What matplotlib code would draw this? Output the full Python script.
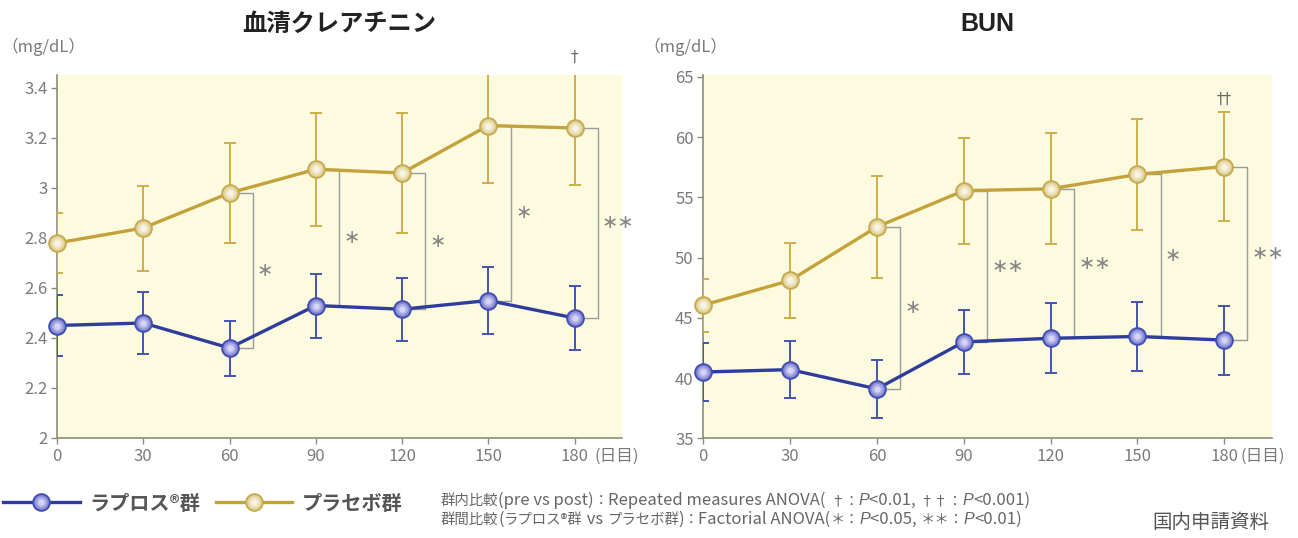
import matplotlib
matplotlib.use("Agg")
import matplotlib.pyplot as plt
from matplotlib.lines import Line2D
from matplotlib.legend_handler import HandlerTuple
from matplotlib.offsetbox import TextArea, HPacker, VPacker, AnchoredOffsetbox
from matplotlib.ticker import FuncFormatter
from matplotlib.font_manager import FontProperties

# ---------------- data ----------------
days = [0, 30, 60, 90, 120, 150, 180]
x_ticks = [0, 30, 60, 90, 120, 150, 180]

cre_lap = [2.45, 2.46, 2.36, 2.53, 2.515, 2.55, 2.48]
cre_lap_sd = [0.12, 0.123, 0.11, 0.128, 0.126, 0.134, 0.128]
cre_pla = [2.78, 2.84, 2.98, 3.075, 3.06, 3.25, 3.24]
cre_pla_sd = [0.12, 0.17, 0.20, 0.227, 0.24, 0.23, 0.23]
cre_yticks = [2, 2.2, 2.4, 2.6, 2.8, 3, 3.2, 3.4]

bun_lap = [40.5, 40.7, 39.1, 43.0, 43.3, 43.45, 43.15]
bun_lap_sd = [2.4, 2.35, 2.38, 2.63, 2.9, 2.87, 2.87]
bun_pla = [46.05, 48.1, 52.55, 55.55, 55.7, 56.9, 57.55]
bun_pla_sd = [2.2, 3.1, 4.25, 4.4, 4.6, 4.6, 4.5]
bun_yticks = [35, 40, 45, 50, 55, 60, 65]

sig_days = [60, 90, 120, 150, 180]
cre_sig = ["∗", "∗", "∗", "∗", "∗∗"]
bun_sig = ["∗", "∗∗", "∗∗", "∗", "∗∗"]
cre_dagger = (180, "†")
bun_dagger = (180, "††")

label_lap = "ラプロス®群"
label_pla = "プラセボ群"
title_cre = "血清クレアチニン"
title_bun = "BUN"
unit = "（mg/dL）"
day_unit = "(日目)"
source = "国内申請資料"

note1 = [("群内比較(pre vs post)：Repeated measures ANOVA( †：", False),
         ("P", True), ("<0.01, ††：", False), ("P", True), ("<0.001)", False)]
note2 = [("群間比較(ラプロス®群 vs プラセボ群)：Factorial ANOVA(＊：", False),
         ("P", True), ("<0.05, ＊＊：", False), ("P", True), ("<0.01)", False)]

# ---------------- style ----------------
FAM = ["Noto Sans CJK JP", "DejaVu Sans"]
plt.rcParams["font.family"] = FAM

BG = "#FCFADF"
SPINE = "#8C8C7A"
TICKC = "#7A7A7A"
GOLD = "#C4A23A"
GOLD_ERR = "#CDAE4A"
GOLD_FACE = "#E2D49C"
GOLD_MID = "#EDE4C2"
GOLD_EDGE = "#C6AA50"
GOLD_HL = "#F8F3E2"
BLUE = "#2E3C9C"
BLUE_ERR = "#4553B0"
BLUE_FACE = "#8A8AD6"
BLUE_MID = "#AEAEE6"
BLUE_EDGE = "#4050B0"
BLUE_HL = "#D4D4F4"
BRACKET = "#9C9C9C"
STARC = "#858585"

MS = 12
MS_MID = 7.8
MS_HL = 4.6

fig = plt.figure(figsize=(12.98, 5.38), dpi=100)
fig.patch.set_facecolor("white")

ax1 = fig.add_axes([57 / 1298, 100 / 538, 565 / 1298, 363 / 538])
ax2 = fig.add_axes([703.3 / 1298, 99.7 / 538, 568.7 / 1298, 363.3 / 538])


def draw_panel(ax, lap, lap_sd, pla, pla_sd, ylim, yticks, sig, dagger,
               unit_x):
    ax.set_facecolor(BG)
    for s in ["top", "right"]:
        ax.spines[s].set_visible(False)
    for s in ["left", "bottom"]:
        ax.spines[s].set_color(SPINE)
        ax.spines[s].set_linewidth(1.2)
    ax.set_xlim(0, 196.5)
    ax.set_ylim(*ylim)
    ax.set_xticks(x_ticks)
    ax.set_yticks(yticks)
    ax.yaxis.set_major_formatter(FuncFormatter(lambda v, p: f"{v:g}"))
    ax.tick_params(axis="both", direction="out", length=4, width=1,
                   color=SPINE, labelcolor=TICKC, labelsize=12, pad=3)

    for vals, sd, lc, ec, fc, mc, edc, hl in [
        (pla, pla_sd, GOLD, GOLD_ERR, GOLD_FACE, GOLD_MID, GOLD_EDGE, GOLD_HL),
        (lap, lap_sd, BLUE, BLUE_ERR, BLUE_FACE, BLUE_MID, BLUE_EDGE, BLUE_HL),
    ]:
        ax.errorbar(days, vals, yerr=sd, fmt="none", ecolor=ec,
                    elinewidth=1.4, capsize=4.3, capthick=1.4, zorder=3)
        ax.plot(days, vals, color=lc, lw=2.4, zorder=4, solid_capstyle="round")
        ax.plot(days, vals, ls="none", marker="o", ms=MS, mfc=fc,
                mec=edc, mew=1.4, zorder=5, clip_on=False)
        ax.plot(days, vals, ls="none", marker="o", ms=MS_MID, mfc=mc,
                mec="none", zorder=6, clip_on=False)
        ax.plot(days, vals, ls="none", marker="o", ms=MS_HL, mfc=hl,
                mec="none", zorder=7, clip_on=False)

    # brackets and significance marks
    for d, s in zip(sig_days, sig):
        i = days.index(d)
        yt, yb = pla[i], lap[i]
        bx = d + 8
        ax.plot([d + 3, bx, bx, d + 3], [yt, yt, yb, yb], color=BRACKET,
                lw=1.0, zorder=3.5, clip_on=False)
        ax.text(bx + 1.5, (yt + yb) / 2, s, ha="left", va="center",
                fontsize=14, color=STARC, family=["DejaVu Sans"],
                clip_on=False)

    d, s = dagger
    i = days.index(d)
    ax.annotate(s, xy=(d, pla[i] + pla_sd[i]), xytext=(0, 4),
                textcoords="offset points", ha="center", va="bottom",
                fontsize=11, color="#666666", family=["DejaVu Sans"],
                annotation_clip=False)

    ax.annotate(day_unit, xy=(unit_x, 0), xycoords=("data", "axes fraction"),
                xytext=(0, -7), textcoords="offset points", ha="left",
                va="top", fontsize=12, color=TICKC, family=FAM,
                annotation_clip=False)


draw_panel(ax1, cre_lap, cre_lap_sd, cre_pla, cre_pla_sd, (2, 3.452),
           cre_yticks, cre_sig, cre_dagger, 187.0)
draw_panel(ax2, bun_lap, bun_lap_sd, bun_pla, bun_pla_sd, (35, 65.15),
           bun_yticks, bun_sig, bun_dagger, 185.5)

# titles
fig.text(339 / 1298, 1 - 24 / 538, title_cre, ha="center", va="center",
         fontsize=17.5, fontweight="bold", color="#222222",
         family=["Noto Sans CJK JP"])
fig.text(987 / 1298, 1 - 24 / 538, title_bun, ha="center", va="center",
         fontsize=18, fontweight="bold", color="#222222",
         family=["Liberation Sans"])

# units
fig.text(1 / 1298, 1 - 47 / 538, unit, ha="left", va="center",
         fontsize=12, color=TICKC, family=FAM)
fig.text(643 / 1298, 1 - 47 / 538, unit, ha="left", va="center",
         fontsize=12, color=TICKC, family=FAM)

# legend
h_lap = (Line2D([], [], color=BLUE, lw=2.4, marker="o", ms=MS,
                mfc=BLUE_FACE, mec=BLUE_EDGE, mew=1.4),
         Line2D([], [], ls="none", marker="o", ms=MS_MID, mfc=BLUE_MID, mec="none"),
         Line2D([], [], ls="none", marker="o", ms=MS_HL, mfc=BLUE_HL, mec="none"))
h_pla = (Line2D([], [], color=GOLD, lw=2.4, marker="o", ms=MS,
                mfc=GOLD_FACE, mec=GOLD_EDGE, mew=1.4),
         Line2D([], [], ls="none", marker="o", ms=MS_MID, mfc=GOLD_MID, mec="none"),
         Line2D([], [], ls="none", marker="o", ms=MS_HL, mfc=GOLD_HL, mec="none"))
leg = fig.legend([h_lap, h_pla], [label_lap, label_pla], ncol=2,
                 loc="center left", bbox_to_anchor=(3 / 1298, 1 - 503 / 538),
                 frameon=False, handlelength=3.8, handletextpad=0.5,
                 columnspacing=0.75, borderpad=0, borderaxespad=0,
                 handler_map={tuple: HandlerTuple(ndivide=1)},
                 prop=FontProperties(family=["Noto Sans CJK JP"],
                                     weight="bold", size=14.5))
for t in leg.get_texts():
    t.set_color("#555555")

# notes: CJK runs and Latin runs sized separately (as in the reference)
NOTE_C = "#666666"
CJK_SIZE = 10.4
LAT_SIZE = 12.0


def runs(text, italic):
    out = []
    cur, cur_lat = "", None
    for ch in text:
        lat = ord(ch) < 128
        if cur and lat != cur_lat:
            out.append((cur, cur_lat))
            cur = ""
        cur += ch
        cur_lat = lat
    if cur:
        out.append((cur, cur_lat))
    areas = []
    for t, lat in out:
        if italic:
            p = dict(fontsize=LAT_SIZE - 0.5, color=NOTE_C, style="italic",
                     family=["Liberation Sans"])
        elif lat:
            p = dict(fontsize=LAT_SIZE, color=NOTE_C, family=FAM)
        else:
            p = dict(fontsize=CJK_SIZE, color=NOTE_C, family=FAM)
        areas.append(TextArea(t, textprops=p))
    return areas


def line(pieces):
    kids = []
    for t, it in pieces:
        kids += runs(t, it)
    return HPacker(children=kids, align="baseline", pad=0, sep=0)


notes = VPacker(children=[line(note1), line(note2)], align="left", pad=0,
                sep=1.5)
ab = AnchoredOffsetbox(loc="upper left", child=notes, pad=0, borderpad=0,
                       frameon=False, bbox_to_anchor=(441 / 1298, 1 - 492 / 538),
                       bbox_transform=fig.transFigure)
fig.add_artist(ab)

fig.text(1211 / 1298, 1 - 523 / 538, source, ha="center", va="center",
         fontsize=14, color="#555555", family=["Noto Sans CJK JP"])

fig.savefig("out.png", dpi=100, facecolor="white")
